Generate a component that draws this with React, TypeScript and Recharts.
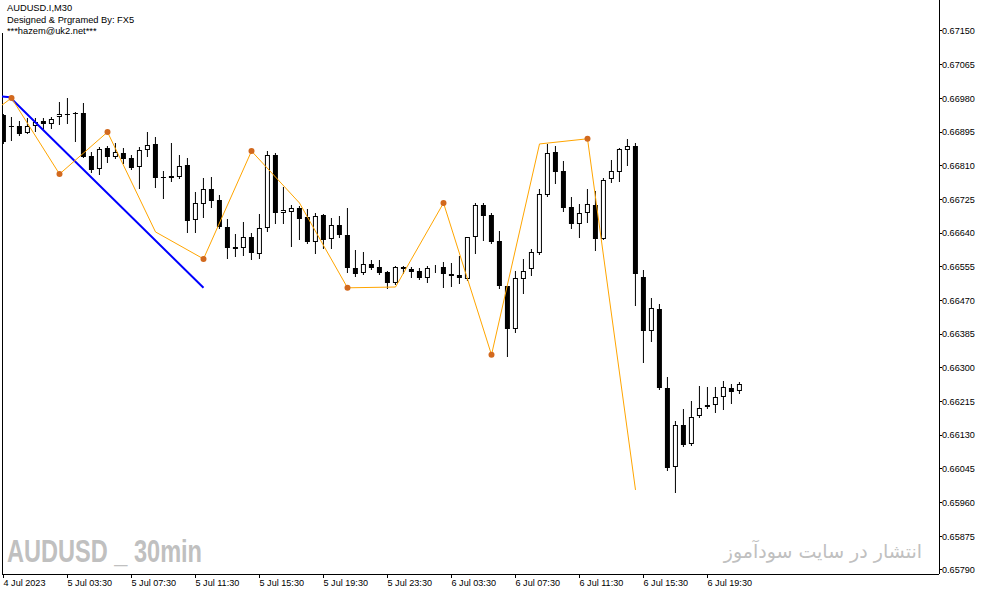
import React from 'react';
import { ComposedChart, Bar, Line, Scatter, XAxis, YAxis, ReferenceLine } from 'recharts';

// AUDUSD.I M30 - 93 candles, 4 Jul 23:30 .. 6 Jul 21:30
const OPEN = [
  0.66938, 0.6691, 0.6691, 0.66893, 0.6691, 0.66923, 0.66915, 0.66932, 0.6694, 0.66942,
  0.66942, 0.66835, 0.66801, 0.66856, 0.66833, 0.66841, 0.66829, 0.66806, 0.66849, 0.66864,
  0.66781, 0.66779, 0.66782, 0.66812, 0.66672, 0.66713, 0.66751, 0.66724, 0.66655, 0.66604,
  0.66603, 0.66629, 0.66587, 0.66652, 0.66837, 0.66692, 0.66694, 0.66704, 0.6668, 0.66618,
  0.66686, 0.66624, 0.6666, 0.66635, 0.66553, 0.66539, 0.66562, 0.66555, 0.66541, 0.66513,
  0.66555, 0.66549, 0.66544, 0.66526, 0.66551, 0.66555, 0.66537, 0.66534, 0.66524, 0.66629,
  0.66711, 0.66685, 0.66619, 0.66506, 0.66397, 0.66525, 0.66549, 0.66591, 0.66737, 0.66844,
  0.66796, 0.66705, 0.66664, 0.6669, 0.6671, 0.66626, 0.66776, 0.66795, 0.66849, 0.6686,
  0.66529, 0.66394, 0.66448, 0.66249, 0.66049, 0.66156, 0.66107, 0.66178, 0.66201, 0.66206,
  0.66226, 0.66249, 0.66241,
];
const HIGH = [
  0.66941, 0.66932, 0.66923, 0.6693, 0.6693, 0.6693, 0.66934, 0.6697, 0.6698, 0.66945,
  0.66968, 0.66845, 0.66858, 0.6686, 0.66867, 0.66854, 0.66837, 0.66858, 0.66894, 0.66882,
  0.66797, 0.66867, 0.66837, 0.6683, 0.66745, 0.66778, 0.66781, 0.66736, 0.66675, 0.66637,
  0.66669, 0.6664, 0.66688, 0.66847, 0.66843, 0.66757, 0.66711, 0.66708, 0.667, 0.66692,
  0.66688, 0.66677, 0.66683, 0.66703, 0.66597, 0.66592, 0.66572, 0.66572, 0.66545, 0.66557,
  0.66556, 0.66554, 0.66551, 0.66557, 0.6656, 0.66568, 0.66565, 0.66582, 0.66631, 0.66717,
  0.66717, 0.6669, 0.66645, 0.66507, 0.66544, 0.66574, 0.666, 0.66751, 0.66865, 0.6686,
  0.66821, 0.6673, 0.66713, 0.66751, 0.66746, 0.66778, 0.66825, 0.66854, 0.66877, 0.66867,
  0.66546, 0.66476, 0.66461, 0.66276, 0.66166, 0.66196, 0.66216, 0.66254, 0.66252, 0.66252,
  0.66267, 0.66259, 0.66264,
];
const LOW = [
  0.66867, 0.66875, 0.66888, 0.66892, 0.66898, 0.66906, 0.66905, 0.66915, 0.66917, 0.66872,
  0.66832, 0.66793, 0.66788, 0.6682, 0.6683, 0.66816, 0.66802, 0.66755, 0.66835, 0.66757,
  0.66729, 0.66772, 0.6678, 0.66644, 0.66644, 0.66681, 0.66705, 0.66652, 0.66578, 0.66583,
  0.66585, 0.66574, 0.66577, 0.66646, 0.66665, 0.66666, 0.66608, 0.66624, 0.66614, 0.66589,
  0.66602, 0.66602, 0.66629, 0.66543, 0.66532, 0.66537, 0.66549, 0.66537, 0.66501, 0.66512,
  0.6654, 0.66529, 0.66524, 0.66517, 0.66543, 0.66505, 0.66507, 0.66515, 0.66522, 0.66589,
  0.66623, 0.66616, 0.66501, 0.66331, 0.6639, 0.6649, 0.66534, 0.66587, 0.66734, 0.66767,
  0.66696, 0.66654, 0.66631, 0.66669, 0.66597, 0.66625, 0.6677, 0.66772, 0.66813, 0.66459,
  0.66314, 0.66369, 0.66247, 0.66042, 0.65988, 0.66104, 0.66105, 0.66175, 0.662, 0.66189,
  0.66197, 0.66212, 0.66237,
];
const CLOSE = [
  0.6687, 0.66907, 0.6689, 0.6691, 0.6692, 0.66915, 0.66928, 0.6694, 0.66939, 0.6694,
  0.66833, 0.66799, 0.66852, 0.66833, 0.66844, 0.66827, 0.66805, 0.66849, 0.66862, 0.6678,
  0.66778, 0.66784, 0.66809, 0.66671, 0.66715, 0.66751, 0.66722, 0.66656, 0.66603, 0.66599,
  0.66629, 0.66589, 0.66652, 0.66837, 0.66692, 0.66698, 0.66703, 0.66675, 0.66618, 0.66683,
  0.66623, 0.6666, 0.66634, 0.66553, 0.66537, 0.66561, 0.66551, 0.6654, 0.66515, 0.66555,
  0.66549, 0.66543, 0.66526, 0.66551, 0.66551, 0.66536, 0.66533, 0.66526, 0.66629, 0.66711,
  0.66683, 0.66618, 0.66507, 0.66397, 0.66526, 0.66545, 0.66592, 0.66738, 0.66841, 0.66795,
  0.66704, 0.66664, 0.6669, 0.66713, 0.66626, 0.66774, 0.66796, 0.66852, 0.66859, 0.66538,
  0.66394, 0.6645, 0.66249, 0.66048, 0.66156, 0.66105, 0.66176, 0.66198, 0.66206, 0.66226,
  0.66251, 0.6624, 0.66259,
];

// zigzag-like indicator (orange), bar index / price
const ZIG_X = [-0.19, 1, 7, 13, 19, 25, 31, 37, 43, 49, 55, 61, 67, 73, 79];
const ZIG_Y = [0.66963, 0.66981, 0.66789, 0.66895, 0.66643, 0.66575, 0.66847, 0.66716, 0.66502, 0.66504, 0.66716, 0.66333, 0.66865, 0.66878, 0.65992];
const ZIG_DOT_X = [1, 7, 13, 25, 31, 43, 55, 61, 73];

// blue trend line
const TREND_X = [-0.19, 0.8, 25];
const TREND_Y = [0.66985, 0.66983, 0.66502];

const X_TICKS = [0, 8, 16, 24, 32, 40, 48, 56, 64, 72, 80, 88];
const X_LABELS = [
  '4 Jul 2023', '5 Jul 03:30', '5 Jul 07:30', '5 Jul 11:30', '5 Jul 15:30', '5 Jul 19:30',
  '5 Jul 23:30', '6 Jul 03:30', '6 Jul 07:30', '6 Jul 11:30', '6 Jul 15:30', '6 Jul 19:30',
];
const Y_TICKS = [
  0.6579, 0.65875, 0.6596, 0.66045, 0.6613, 0.66215, 0.663, 0.66385, 0.6647,
  0.66555, 0.6664, 0.66725, 0.6681, 0.66895, 0.6698, 0.67065, 0.6715,
];

const X_MIN = -0.1875;
const X_MAX = 116.9375;
const Y_MIN = 0.657799;
const Y_MAX = 0.672282;
const FRAME_TOP = 0.67145;

const candles = OPEN.map((o, i) => ({ i, open: o, high: HIGH[i], low: LOW[i], close: CLOSE[i] }));
const zig = ZIG_X.map((x, k) => ({ i: x, p: ZIG_Y[k] }));
const zigDots = zig.filter((d) => ZIG_DOT_X.includes(d.i));
const trend = TREND_X.map((x, k) => ({ i: x, p: TREND_Y[k] }));

const FONT = "'Liberation Sans', Arial, sans-serif";
const BODY_W = 5;

const Candle = (props: any) => {
  const { x, y, width, height, payload } = props;
  if (x == null || y == null) return null;
  const { open, close, high, low } = payload;
  const top = Math.min(y, y + height);
  const h = Math.abs(height);
  const cx = x + (width || 0) / 2;
  const k = high > low ? h / (high - low) : 0;
  const yO = top + (high - open) * k;
  const yC = top + (high - close) * k;
  const bTop = Math.round(Math.min(yO, yC));
  const bBot = Math.max(Math.round(Math.max(yO, yC)), bTop + 1);
  const up = close >= open;
  const bx = cx - BODY_W / 2;
  return (
    <g>
      <line x1={cx} x2={cx} y1={Math.round(top)} y2={Math.round(top + h) + 1} stroke="#000" strokeWidth={1} />
      {up ? (
        <rect x={bx + 0.5} y={bTop + 0.5} width={BODY_W - 1} height={Math.max(bBot - bTop - 1, 0)} fill="#fff" stroke="#000" strokeWidth={1} />
      ) : (
        <rect x={bx} y={bTop} width={BODY_W} height={bBot - bTop} fill="#000" />
      )}
    </g>
  );
};

const Dot = (props: any) => {
  const { cx, cy } = props;
  if (cx == null || cy == null) return null;
  return <circle cx={cx} cy={cy} r={3} fill="#D2691E" />;
};

export default function App() {
  return (
    <div style={{ position: 'relative', width: 983, height: 595, background: '#fff' }}>
      <style>{'body{margin:0;background:#fff}'}</style>
      <ComposedChart
        width={983}
        height={595}
        data={candles}
        margin={{ top: 0, right: 0, bottom: 0, left: 2 }}
      >
        <XAxis
          type="number"
          dataKey="i"
          domain={[X_MIN, X_MAX]}
          allowDataOverflow
          ticks={X_TICKS}
          interval={0}
          tickFormatter={(v: number) => X_LABELS[X_TICKS.indexOf(v)] ?? ''}
          tick={{ fontSize: 9.1, fill: '#000', fontFamily: FONT, textAnchor: 'start' }}
          tickSize={4}
          tickMargin={2}
          tickLine={{ stroke: '#000', shapeRendering: 'crispEdges' }}
          axisLine={{ stroke: '#000', shapeRendering: 'crispEdges' }}
          height={21}
        />
        <YAxis
          orientation="right"
          width={44}
          domain={[Y_MIN, Y_MAX]}
          allowDataOverflow
          ticks={Y_TICKS}
          interval={0}
          tickFormatter={(v: number) => v.toFixed(5)}
          tick={{ fontSize: 9.1, fill: '#000', fontFamily: FONT }}
          tickSize={3}
          tickMargin={0}
          tickLine={{ stroke: '#000', shapeRendering: 'crispEdges' }}
          axisLine={{ stroke: '#000', shapeRendering: 'crispEdges' }}
        />
        <ReferenceLine
          segment={[{ x: X_MIN, y: FRAME_TOP }, { x: X_MIN, y: Y_MIN }]}
          stroke="#000"
          shapeRendering="crispEdges"
        />
        <Bar
          dataKey={(d: any) => [d.low, d.high]}
          barSize={5}
          shape={<Candle />}
          isAnimationActive={false}
        />
        <Line
          data={trend}
          dataKey="p"
          type="linear"
          stroke="#0000FF"
          strokeWidth={2}
          dot={false}
          activeDot={false}
          isAnimationActive={false}
        />
        <Line
          data={zig}
          dataKey="p"
          type="linear"
          stroke="#FFA500"
          strokeWidth={1}
          dot={false}
          activeDot={false}
          isAnimationActive={false}
        />
        <Scatter data={zigDots} dataKey="p" shape={<Dot />} isAnimationActive={false} />
      </ComposedChart>
      <svg
        width={983}
        height={595}
        style={{ position: 'absolute', left: 0, top: 0, pointerEvents: 'none' }}
      >
        <g fontFamily={FONT} fontSize={9.3} fill="#000">
          <text x={7} y={11}>AUDUSD.I,M30</text>
          <text x={7} y={22.5}>Designed &amp; Prgramed By: FX5</text>
          <text x={7} y={34}>***hazem@uk2.net***</text>
        </g>
        <text
          x={7}
          y={562}
          fontFamily="'Liberation Sans Narrow', 'Liberation Sans', Arial, sans-serif"
          fontWeight="bold"
          fontSize={32}
          fill="#C0C0C0"
          textLength={195}
          lengthAdjust="spacingAndGlyphs"
        >
          AUDUSD _ 30min
        </text>
        <text
          x={922}
          y={558}
          fontFamily="'DejaVu Sans', sans-serif"
          fontSize={19}
          fill="#C0C0C0"
          textAnchor="end"
        >
          انتشار در سایت سودآموز
        </text>
      </svg>
    </div>
  );
}
